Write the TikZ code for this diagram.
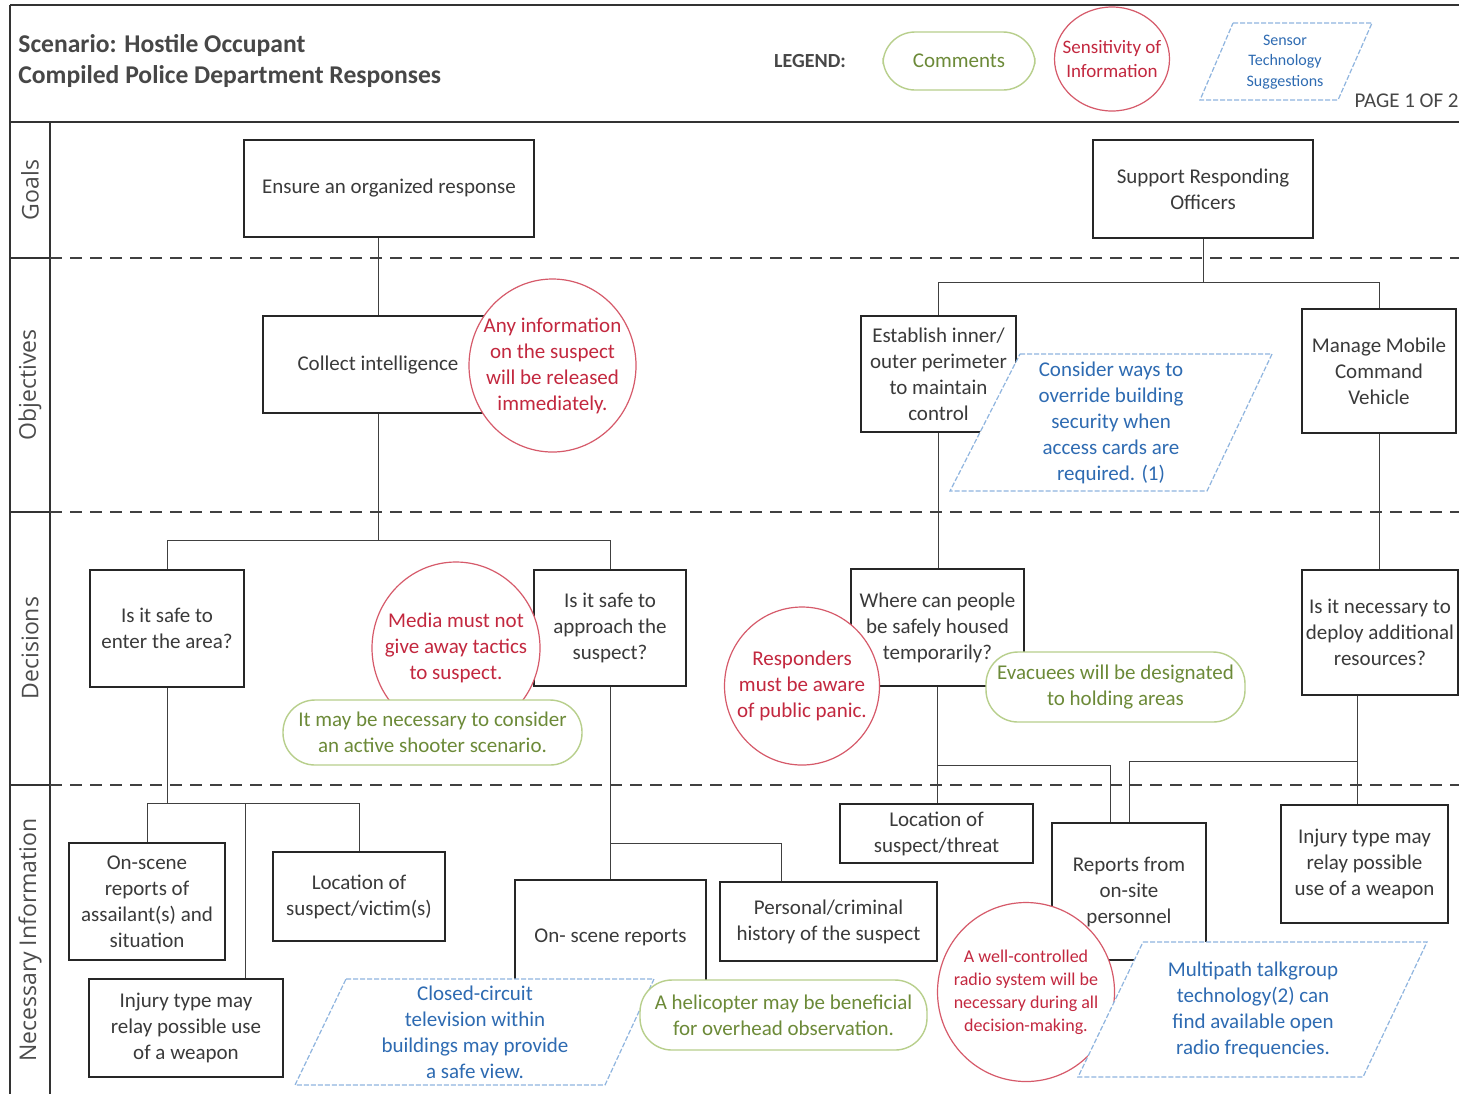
\documentclass[tikz,border=0pt]{standalone}
\usepackage{fontspec}
\setmainfont{Carlito}
\newfontfamily\lanefont{Open Sans}
\usetikzlibrary{shapes.geometric,calc,backgrounds}

\definecolor{txtgray}{HTML}{3A3A3A}
\definecolor{sensred}{HTML}{C3283F}
\definecolor{sensline}{HTML}{D65A6A}
\definecolor{commgreen}{HTML}{6C8A38}
\definecolor{commline}{HTML}{B8CF8C}
\definecolor{techblue}{HTML}{2E6BB2}
\definecolor{techline}{HTML}{8FB5DF}

\tikzset{
  wh/.style 2 args={minimum width=#1*0.5pt, minimum height=#2*0.5pt},
  body/.style={font=\fontsize{10.5}{13}\selectfont},
  box/.style={draw=black!85, fill=white, text=txtgray, align=center, body, inner sep=1pt, line width=0.6pt},
  heavybox/.style={box, line width=1.1pt},
  sensitive/.style={ellipse, draw=sensline, fill=white, text=sensred, align=center, body, inner sep=-8pt, line width=0.6pt},
  comment/.style={rectangle, rounded corners=16pt, draw=commline, fill=white, text=commgreen, align=center, body, inner sep=1pt, line width=0.7pt},
  techshape/.style={draw=techline, fill=white, line width=0.6pt, dash pattern=on 2.5pt off 1pt},
  techtext/.style={text=techblue, align=center, body, inner sep=0pt},
  lane/.style={rotate=90, text=black!70, font=\lanefont\fontsize{11.5}{13}\selectfont},
  link/.style={draw=black!75, line width=0.5pt},
  frame/.style={draw=black!80, line width=0.8pt},
  sep/.style={draw=black!75, line width=0.8pt, dash pattern=on 6pt off 4pt},
}

\begin{document}
\begin{tikzpicture}[x=0.5pt,y=-0.5pt]
\useasboundingbox (0,0) rectangle (1459,1094);

% frame and lanes
\draw[frame] (10,5) -- (1459,5);
\draw[frame] (10,5) -- (10,1094);
\draw[frame] (10,122) -- (1459,122);
\draw[frame] (50,122) -- (50,1094);
\foreach \y in {258,512,785}{
  \draw[frame] (10,\y) -- (50,\y);
  \draw[sep] (50,\y) -- (1459,\y);
}

\node[lane] (laneGoals) at (30,190) {Goals};
\node[lane] (laneObj) at (30,385) {Objectives};
\node[lane] (laneDec) at (30,648) {Decisions};
\node[lane] (laneInfo) at (30,940) {Necessary Information};

% title and legend
\node[anchor=west, inner sep=0pt, text=black!72, font=\bfseries\fontsize{12.8}{15}\selectfont] (title1) at (18,46) {Scenario: Hostile Occupant};
\node[anchor=west, inner sep=0pt, text=black!72, font=\bfseries\fontsize{12.8}{15}\selectfont] (title2) at (18,77) {Compiled Police Department Responses};
\node[text=black!72, font=\bfseries\fontsize{10}{12}\selectfont] (legend) at (810,61) {LEGEND:};
\node[comment, wh={152}{58}] (legComm) at (959,61) {Comments};
\node[sensitive, wh={115}{104}, font=\fontsize{9.5}{12}\selectfont] (legSens) at (1112,59) {Sensitivity of\\Information};
\draw[techshape] (1233,23) -- (1372,23) -- (1338,100) -- (1200,100) -- cycle;
\node[techtext, font=\fontsize{8}{10.3}\selectfont] (legTech) at (1285,62) {Sensor\\Technology\\Suggestions};
\node[anchor=east, inner sep=0pt, text=black!72, font=\fontsize{10.5}{12}\selectfont] (page) at (1459,101) {PAGE 1 OF 2};

% goals
\node[box, wh={290}{97}] (goalA) at (389,188.5) {Ensure an organized response};
\node[box, wh={220}{98}] (goalB) at (1203,189) {Support Responding\\Officers};

% objectives
\node[box, wh={230}{97}] (objA) at (378,364.5) {Collect intelligence};
\node[sensitive, wh={167}{173}] (infoCirc) at (552.5,365.5) {Any information\\on the suspect\\will be released\\immediately.};
\node[box, wh={155}{116}] (objB) at (938.5,374) {Establish inner/\\outer perimeter\\to maintain\\control};
\node[box, wh={154}{124}] (objC) at (1379,371) {Manage Mobile\\Command\\Vehicle};
\draw[techshape] (1020,354) -- (1272,354) -- (1207,491) -- (950,491) -- cycle;
\node[techtext] (overrideTech) at (1111,423) {Consider ways to\\override building\\security when\\access cards are\\required. (1)};

% decisions
\node[box, wh={154}{117}] (decA) at (167,628.5) {Is it safe to\\enter the area?};
\node[box, wh={152}{116}] (decB) at (610,628) {Is it safe to\\approach the\\suspect?};
\node[sensitive, wh={168}{172}] (mediaCirc) at (456,648) {Media must not\\give away tactics\\to suspect.};
\node[comment, wh={299}{65}] (shooterComm) at (432.5,732.5) {It may be necessary to consider\\an active shooter scenario.};
\node[box, wh={173}{117}] (decC) at (937.5,627.5) {Where can people\\be safely housed\\temporarily?};
\node[sensitive, wh={155}{158}] (panicCirc) at (802,686) {Responders\\must be aware\\of public panic.};
\node[comment, wh={259}{70}] (evacComm) at (1115.5,687) {Evacuees will be designated\\to holding areas};
\node[box, wh={156}{125}] (decD) at (1380,632.5) {Is it necessary to\\deploy additional\\resources?};

% necessary information
\node[box, wh={156}{117}] (infA) at (147,901.5) {On-scene\\reports of\\assailant(s) and\\situation};
\node[heavybox, wh={172}{89}] (infB) at (359,896.5) {Location of\\suspect/victim(s)};
\node[heavybox, wh={194}{98}] (infC) at (186,1028) {Injury type may\\relay possible use\\of a weapon};
\node[box, wh={191}{115}] (infD) at (610.5,937.5) {On- scene reports};
\node[heavybox, wh={217}{79}] (infE) at (828.5,921.5) {Personal/criminal\\history of the suspect};
\node[heavybox, wh={193}{59}] (infF) at (936.5,833.5) {Location of\\suspect/threat};
\node[box, wh={154}{137}] (infG) at (1129,891.5) {Reports from\\on-site\\personnel};
\node[heavybox, wh={167}{118}] (infH) at (1364.5,864) {Injury type may\\relay possible\\use of a weapon};

\draw[techshape] (346,979) -- (654,979) -- (605,1085) -- (295,1085) -- cycle;
\node[techtext] (cctvTech) at (475,1032) {Closed-circuit\\television within\\buildings may provide\\a safe view.};
\node[comment, wh={287}{70}] (heliComm) at (783.5,1015) {A helicopter may be beneficial\\for overhead observation.};
\node[sensitive, wh={177}{179}, font=\fontsize{9}{11.5}\selectfont] (radioCirc) at (1026,992) {A well-controlled\\radio system will be\\necessary during all\\decision-making.};
\draw[techshape] (1143,942) -- (1427,942) -- (1363,1077) -- (1078,1077) -- cycle;
\node[techtext] (talkTech) at (1253,1010) {Multipath talkgroup\\technology(2) can\\find available open\\radio frequencies.};

% connectors
\coordinate (jA) at (378,540);
\coordinate (jB) at (1203,282);
\coordinate (jC) at (169,803);
\coordinate (jC2) at (245,803);
\coordinate (jD) at (781,843);
\coordinate (jE) at (1110,765);
\coordinate (jF) at (1357,761);
\coordinate (jF2) at (1129,761);
\begin{scope}[on background layer]
\fill[white] (0,0) rectangle (1459,1094);
\draw[link] (goalA.south -| objA.north) -- (objA.north);
\draw[link] (objA.south) -- (jA);
\draw[link] (decA.north) |- (jA) -| (decB.north);
\draw[link] (goalB.south) -- (jB);
\draw[link] (objB.north) |- (jB) -| (objC.north);
\draw[link] (objB.south) -- (objB.south |- decC.north);
\draw[link] (objC.south) -- (objC.south |- decD.north);
\draw[link] (decA.south) -- (decA.south |- jC);
\draw[link] (infA.north) |- (jC) -| (infB.north);
\draw[link] (jC2) -- (jC2 |- infC.north);
\draw[link] (decB.south) -- (decB.south |- infD.north);
\draw[link] (decB.south |- jD) -- (jD) -- (jD |- infE.north);
\draw[link] (decC.south) -- (decC.south |- infF.north);
\draw[link] (decC.south |- jE) -- (jE) -- (jE |- infG.north);
\draw[link] (jF |- decD.south) -- (jF |- infH.north);
\draw[link] (jF) -- (jF2) -- (jF2 |- infG.north);
\end{scope}

\end{tikzpicture}
\end{document}
